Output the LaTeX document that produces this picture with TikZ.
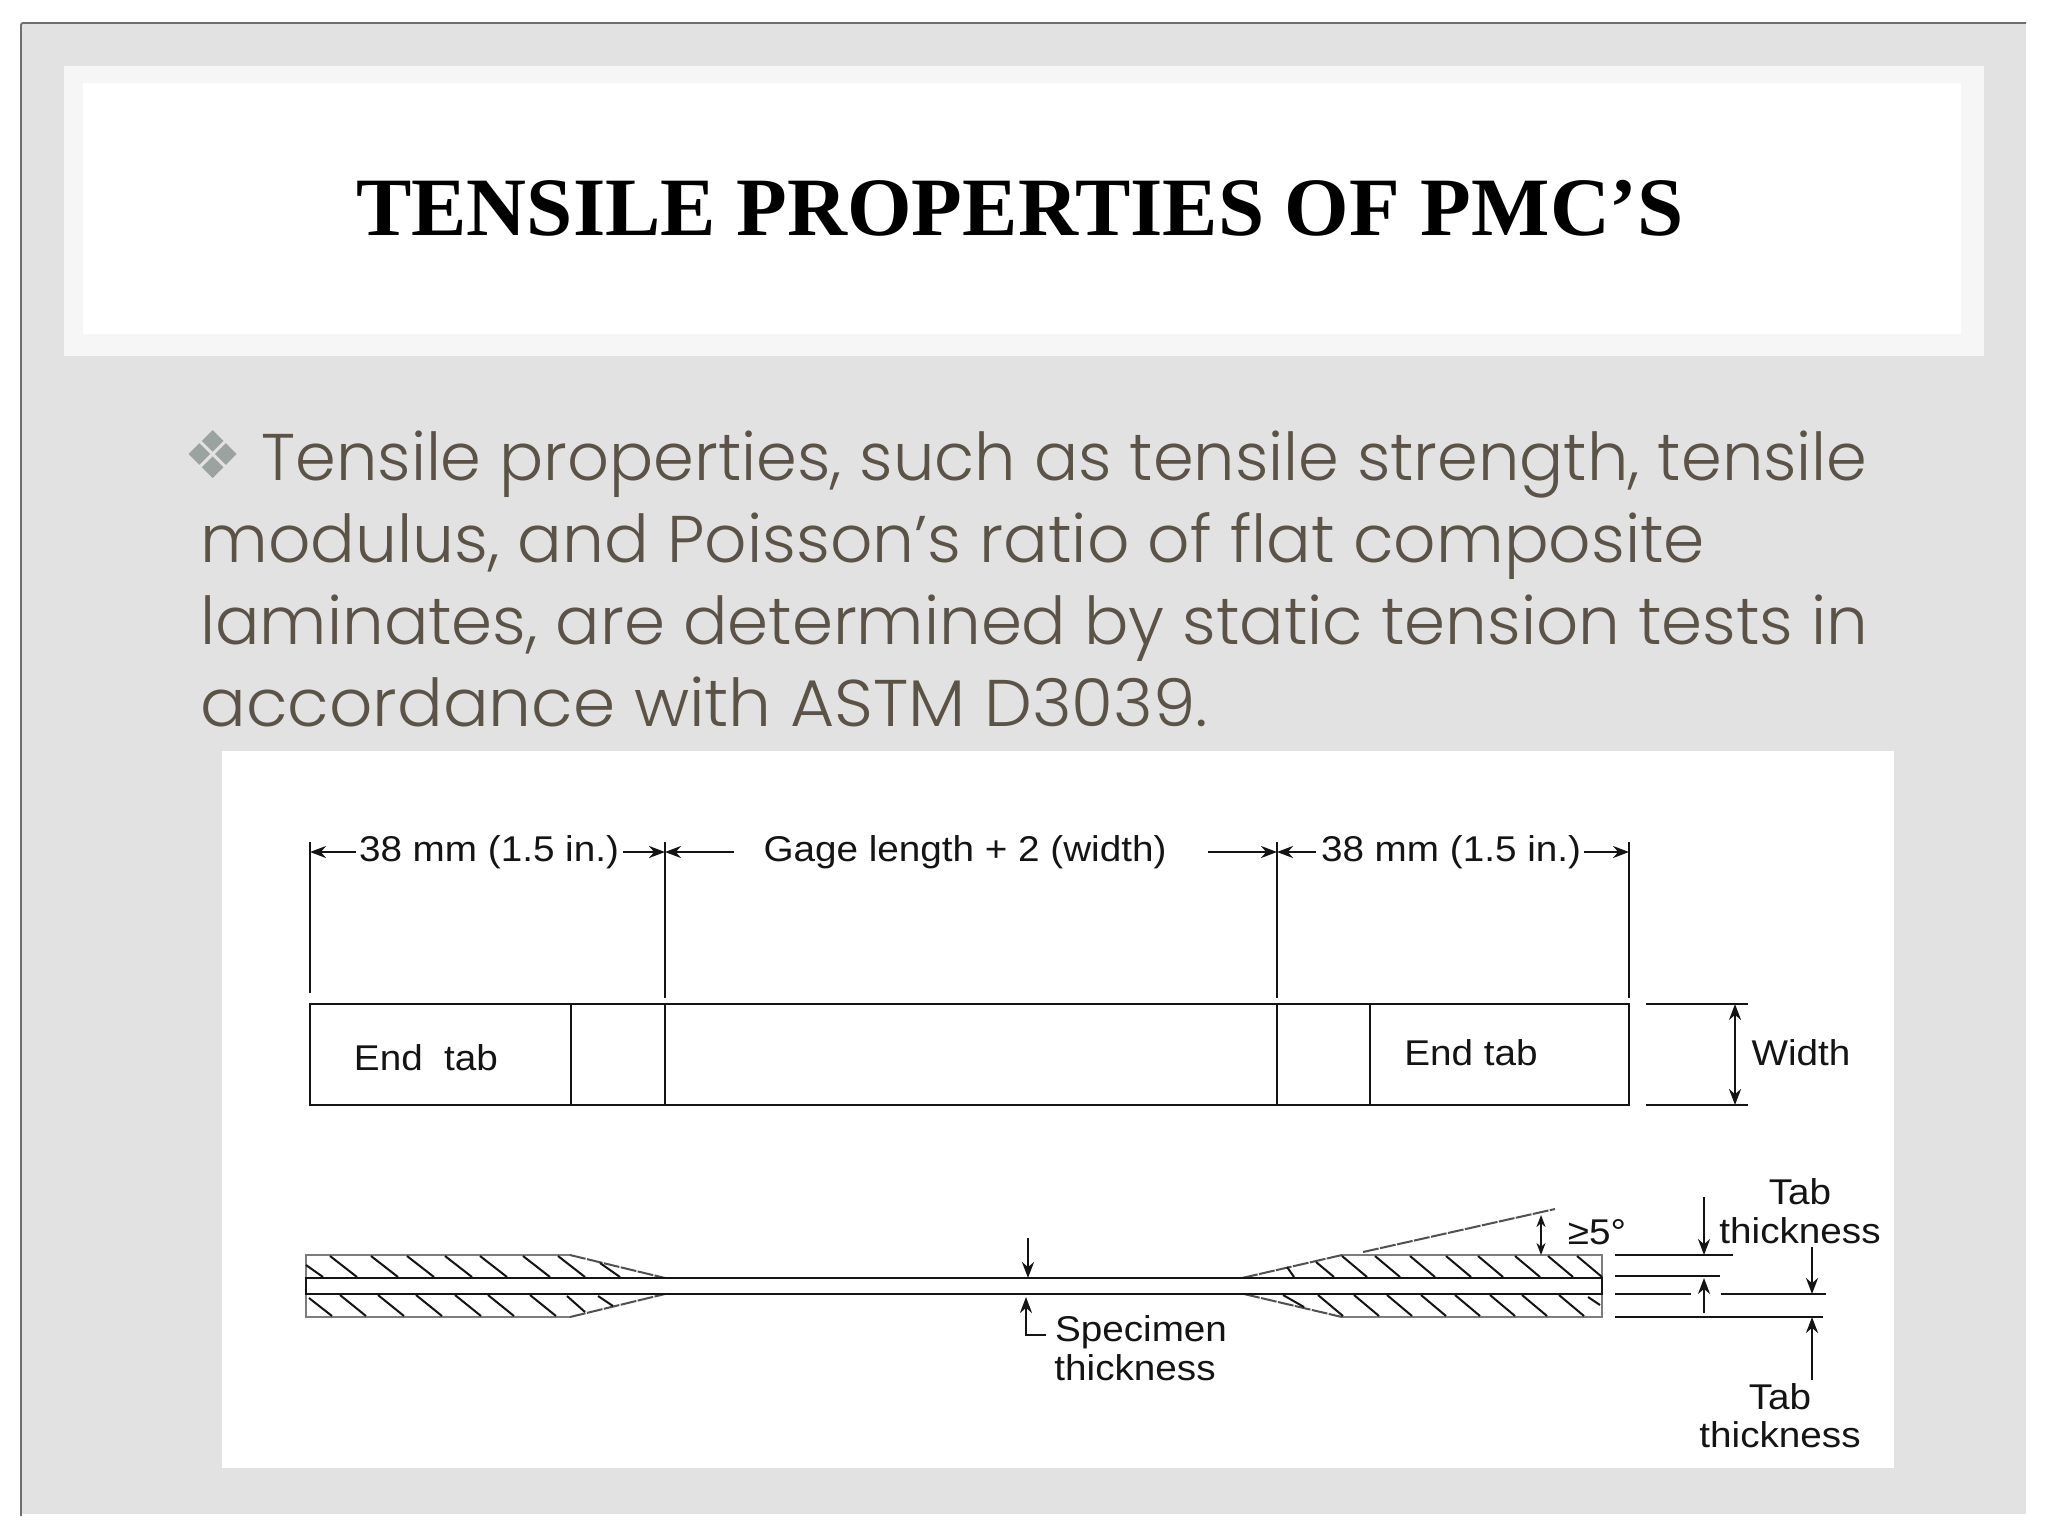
\documentclass[tikz,border=0pt]{standalone}
\usepackage{fontspec}
\usepackage{tikz}
\usetikzlibrary{arrows.meta}
\setmainfont{Liberation Sans}
\newfontfamily\titlefont{Liberation Serif}
\newfontfamily\bodyfont[UprightFont=* Light]{Poppins}
\newfontfamily\labelfont[FakeStretch=1.08]{Liberation Sans}
\newfontfamily\bulletfont{DejaVu Sans}
\definecolor{slidegray}{HTML}{E2E2E3}
\definecolor{bandwhite}{HTML}{F6F6F6}
\definecolor{edgegray}{HTML}{6E6E6E}
\definecolor{bodytext}{HTML}{5A5346}
\definecolor{bulletgray}{HTML}{9AA3A0}
\definecolor{inkblack}{HTML}{141414}
\definecolor{tabgray}{HTML}{7C7C7C}
\definecolor{tapergray}{HTML}{505050}
\tikzset{
	bodyline/.style={anchor=base west,inner sep=0pt,text=bodytext,font=\bodyfont\fontsize{33}{33}\selectfont},
	dimtext/.style={inner sep=0pt,text=inkblack,font=\labelfont\fontsize{17.9}{17.9}\selectfont},
	partline/.style={line width=1.25pt,color=inkblack},
	thinline/.style={line width=1.1pt,color=inkblack},
	dimarrow/.style={line width=1.2pt,color=inkblack,-{Stealth[length=8pt,width=6pt]}},
	hatchline/.style={line width=1pt,color=inkblack},
	taperline/.style={line width=1pt,color=tapergray,dash pattern=on 8pt off 0.7pt},
}
\begin{document}
\begin{tikzpicture}[x=0.5pt,y=-0.5pt]
	\useasboundingbox (0,0) rectangle (2048,1536);
	%Slide
	\fill[white] (0,0) rectangle (2048,1536);
	\fill[slidegray] (21,23) rectangle (2026,1514);
	\draw[edgegray,line width=0.9pt,rounded corners=1pt] (21,1516) -- (21,23) -- (2026,23);
	\fill[bandwhite] (64,66) rectangle (1984,356);
	\fill[white] (83,83) rectangle (1961,334);
	\fill[white] (222,751) rectangle (1894,1468);

	%Text
	\node[inner sep=0pt,font=\titlefont\fontsize{41.5}{41.5}\selectfont\bfseries] (title) at (1020,208) {TENSILE PROPERTIES OF PMC’S};
	\node[text=bulletgray,inner sep=0pt,font=\bulletfont\fontsize{33}{33}\selectfont] (bullet) at (213,455) {❖};
	\node[bodyline] (line1) at (261,480) {\addfontfeature{FakeStretch=0.992}Tensile properties, such as tensile strength, tensile};
	\node[bodyline] (line2) at (200,562) {\addfontfeature{FakeStretch=1.004}modulus, and Poisson’s ratio of flat composite};
	\node[bodyline] (line3) at (200,644) {\addfontfeature{FakeStretch=0.998}laminates, are determined by static tension tests in};
	\node[bodyline] (line4) at (200,726) {\addfontfeature{FakeStretch=1.027}accordance with ASTM D3039.};

	%Nodes
	\coordinate (n0) at (310,1004);
	\coordinate (n1) at (571,1004);
	\coordinate (n2) at (665,1004);
	\coordinate (n3) at (1277,1004);
	\coordinate (n4) at (1370,1004);
	\coordinate (n5) at (1629,1004);
	\coordinate (n6) at (310,1105);
	\coordinate (n7) at (571,1105);
	\coordinate (n8) at (665,1105);
	\coordinate (n9) at (1277,1105);
	\coordinate (n10) at (1370,1105);
	\coordinate (n11) at (1629,1105);
	\coordinate (t0) at (310,842);
	\coordinate (t1) at (665,842);
	\coordinate (t2) at (1277,842);
	\coordinate (t3) at (1629,842);
	\coordinate (b0) at (310,993);
	\coordinate (b1) at (665,998);
	\coordinate (b2) at (1277,998);
	\coordinate (b3) at (1629,998);
	\coordinate (a0) at (310,852);
	\coordinate (a1) at (665,852);
	\coordinate (a2) at (1277,852);
	\coordinate (a3) at (1629,852);

	\node[dimtext] (lenL) at (489,852) {38 mm (1.5 in.)};
	\node[dimtext] (lenG) at (965,852) {Gage length + 2 (width)};
	\node[dimtext] (lenR) at (1451,852) {38 mm (1.5 in.)};
	\node[dimtext] (tabL) at (426,1058) {End\ \ tab};
	\node[dimtext] (tabR) at (1471,1053) {End tab};
	\node[dimtext] (width) at (1801,1053) {Width};
	\node[dimtext] (deg) at (1597,1232) {≥5°};
	\node[dimtext] (tabtop) at (1800,1192) {Tab};
	\node[dimtext] (thicktop) at (1800,1231) {thickness};
	\node[dimtext] (tabbot) at (1780,1397) {Tab};
	\node[dimtext] (thickbot) at (1780,1435) {thickness};
	\node[dimtext] (spec) at (1141,1332) {Specimen};
	\node[dimtext] (thickspec) at (1135,1368) {thickness};

	%Lines
	\draw[partline] (n0) -- (n5) -- (n11) -- (n6) -- cycle;
	\draw[partline] (n1) -- (n7);
	\draw[partline] (n2) -- (n8);
	\draw[partline] (n3) -- (n9);
	\draw[partline] (n4) -- (n10);
	\draw[thinline] (t0) -- (b0);
	\draw[thinline] (t1) -- (b1);
	\draw[thinline] (t2) -- (b2);
	\draw[thinline] (t3) -- (b3);

	\coordinate (lenLa) at (356,852);
	\coordinate (lenLb) at (623,852);
	\coordinate (lenGa) at (734,852);
	\coordinate (lenGb) at (1208,852);
	\coordinate (lenRa) at (1316,852);
	\coordinate (lenRb) at (1584,852);
	\draw[dimarrow] (lenLa) -- (a0);
	\draw[dimarrow] (lenLb) -- (a1);
	\draw[dimarrow] (lenGa) -- (a1);
	\draw[dimarrow] (lenGb) -- (a2);
	\draw[dimarrow] (lenRa) -- (a2);
	\draw[dimarrow] (lenRb) -- (a3);

	\coordinate (w0) at (1646,1004);
	\coordinate (w1) at (1748,1004);
	\coordinate (w2) at (1646,1105);
	\coordinate (w3) at (1748,1105);
	\coordinate (w4) at (1735,1004);
	\coordinate (w5) at (1735,1105);
	\draw[thinline] (w0) -- (w1);
	\draw[thinline] (w2) -- (w3);
	\draw[dimarrow,{Stealth[length=8pt,width=6pt]}-{Stealth[length=8pt,width=6pt]}] (w4) -- (w5);

	%Specimen
	\coordinate (s0) at (306,1278);
	\coordinate (s1) at (1602,1278);
	\coordinate (s2) at (306,1294);
	\coordinate (s3) at (1602,1294);
	\coordinate (l0) at (306,1255);
	\coordinate (l1) at (570,1255);
	\coordinate (l2) at (665,1278);
	\coordinate (l3) at (306,1317);
	\coordinate (l4) at (570,1317);
	\coordinate (l5) at (665,1294);
	\coordinate (r0) at (1602,1255);
	\coordinate (r1) at (1342,1255);
	\coordinate (r2) at (1242,1278);
	\coordinate (r3) at (1602,1317);
	\coordinate (r4) at (1342,1317);
	\coordinate (r5) at (1244,1294);
	\coordinate (r6) at (1555,1209);

	\draw[line width=1pt,color=tabgray] (s0) -- (l0) -- (l1);
	\draw[line width=1pt,color=tabgray] (s2) -- (l3) -- (l4);
	\draw[line width=1pt,color=tabgray] (s1) -- (r0) -- (r1);
	\draw[line width=1pt,color=tabgray] (s3) -- (r3) -- (r4);
	\draw[taperline] (l1) -- (l2);
	\draw[taperline] (l4) -- (l5);
	\draw[taperline] (r2) -- (r1);
	\draw[taperline] (r5) -- (r4);
	\draw[taperline] (1363,1252) -- (r6);

	\foreach \x in {330,371,407,445,480,523,558}
		\draw[hatchline] (\x,1256) -- (\x+27,1277);
	\foreach \x in {340,378,416,455,488,530}
		\draw[hatchline] (\x,1295) -- (\x+26,1316);
	\foreach \x in {1342,1375,1410,1446,1478,1515,1548,1577}
		\draw[hatchline] (\x,1256) -- (\x+25,1277);
	\foreach \x in {1318,1354,1387,1421,1455,1490,1522,1559}
		\draw[hatchline] (\x,1295) -- (\x+25,1316);
	\draw[hatchline] (306,1265) -- (323,1277);
	\draw[hatchline] (309,1298) -- (332,1316);
	\draw[hatchline] (600,1263) -- (620,1277);
	\draw[hatchline] (567,1296) -- (585,1312);
	\draw[hatchline] (598,1296) -- (613,1306);
	\draw[hatchline] (1316,1262) -- (1334,1277);
	\draw[hatchline] (1287,1267) -- (1294,1277);
	\draw[hatchline] (1283,1295) -- (1304,1307);
	\draw[hatchline] (1588,1297) -- (1600,1305);

	\draw[partline] (s0) -- (s1) -- (s3) -- (s2) -- cycle;

	%Thickness marks
	\coordinate (d0) at (1615,1255);
	\coordinate (d1) at (1733,1255);
	\coordinate (d2) at (1615,1276);
	\coordinate (d3) at (1720,1276);
	\coordinate (d4) at (1615,1294);
	\coordinate (d5) at (1691,1294);
	\coordinate (d6) at (1721,1294);
	\coordinate (d7) at (1826,1294);
	\coordinate (d8) at (1615,1317);
	\coordinate (d9) at (1823,1317);
	\draw[thinline] (d0) -- (d1);
	\draw[thinline] (d2) -- (d3);
	\draw[thinline] (d4) -- (d5);
	\draw[thinline] (d6) -- (d7);
	\draw[thinline] (d8) -- (d9);

	\coordinate (e0) at (1704,1197);
	\coordinate (e1) at (1704,1255);
	\coordinate (e2) at (1704,1313);
	\coordinate (e3) at (1704,1278);
	\coordinate (e4) at (1812,1247);
	\coordinate (e5) at (1812,1294);
	\coordinate (e6) at (1812,1380);
	\coordinate (e7) at (1812,1317);
	\coordinate (e8) at (1028,1238);
	\coordinate (e9) at (1028,1278);
	\coordinate (e10) at (1046,1335);
	\coordinate (e11) at (1026,1335);
	\coordinate (e12) at (1026,1297);
	\coordinate (e13) at (1541,1215);
	\coordinate (e14) at (1541,1255);
	\draw[dimarrow] (e0) -- (e1);
	\draw[dimarrow] (e2) -- (e3);
	\draw[dimarrow] (e4) -- (e5);
	\draw[dimarrow] (e6) -- (e7);
	\draw[dimarrow] (e8) -- (e9);
	\draw[dimarrow] (e10) -- (e11) -- (e12);
	\draw[dimarrow,{Stealth[length=6pt,width=4.5pt]}-{Stealth[length=6pt,width=4.5pt]}] (e13) -- (e14);
\end{tikzpicture}
\end{document}
